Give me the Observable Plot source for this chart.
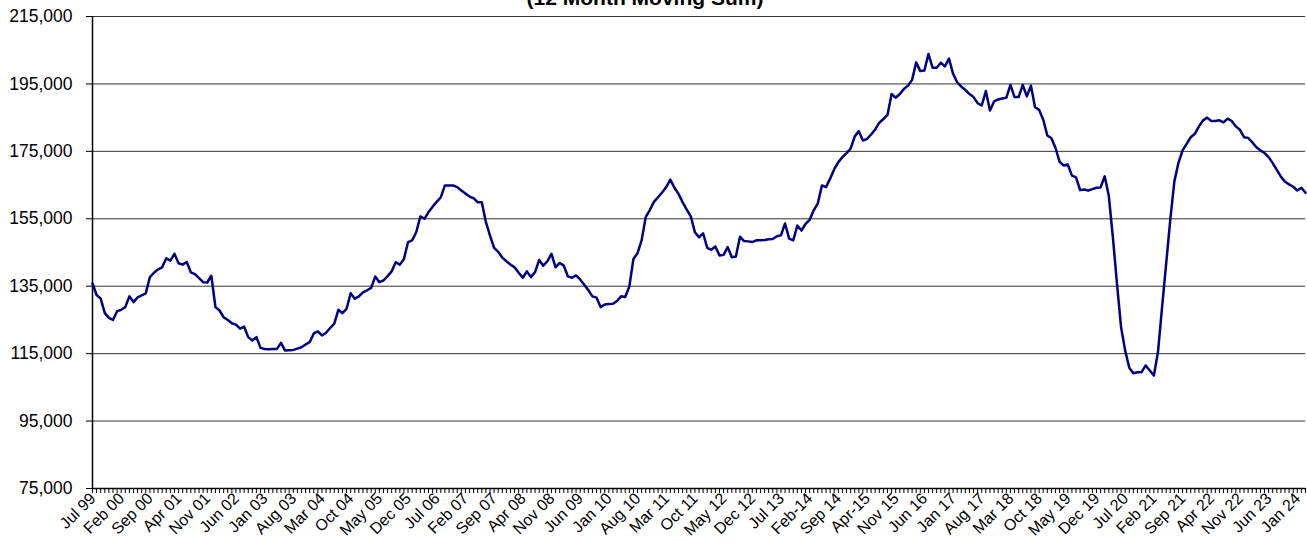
<!DOCTYPE html>
<html><head><meta charset="utf-8">
<script src="https://cdn.jsdelivr.net/npm/d3@7"></script>
<script src="https://cdn.jsdelivr.net/npm/@observablehq/plot@0.6"></script>
<style>
body{margin:0;background:#fff;overflow:hidden}
#wrap{position:relative;width:1307px;height:560px;overflow:hidden;background:#fff}
#title{position:absolute;left:0;width:1290px;text-align:center;top:-12px;font:bold 21px "Liberation Sans",sans-serif;line-height:20px;color:#000;white-space:nowrap;z-index:2}
#chart{position:absolute;left:0;top:0}
</style></head><body>
<div id="wrap"><div id="title">(12 Month Moving Sum)</div><div id="chart"></div></div>
<script>
// Monthly 12-month moving sum, Jul 99 .. Mar 24
const values = [
135800,132400,131300,127000,125600,125000,127600,128000,128800,132000,130300,131700,
132300,132900,137700,139000,140000,140600,143300,142600,144600,141800,141400,142200,
139100,138600,137400,136200,136100,138100,128800,127800,125800,125000,124000,123600,
122400,123000,119900,118900,119900,116700,116400,116300,116400,116400,118200,115900,
116000,116100,116500,116900,117700,118400,121000,121600,120400,121200,122600,123900,
128000,127000,128300,132900,131300,132000,133200,133800,134500,137900,136200,136700,
138000,139400,142100,141400,143100,148100,148600,151000,155700,155000,157000,158600,
160000,161400,164900,164900,164900,164400,163400,162500,161600,161100,159900,159900,
154000,150000,146400,145200,143500,142400,141400,140600,139000,137500,139400,137700,
139200,142800,141100,142400,144600,140600,141900,141100,137900,137500,138200,137000,
135400,133800,132000,131600,128800,129600,129700,129800,130600,132000,131800,134900,
143100,144800,148600,155500,157600,160000,161400,162800,164400,166600,164200,162400,
159900,157700,155700,151000,149500,150700,146400,145800,146800,144100,144300,146600,
143600,143800,149700,148400,148300,148100,148600,148600,148700,148900,149000,149800,
150100,153600,149100,148600,153000,151500,153500,154700,157500,159600,164900,164400,
166900,169700,171800,173300,174500,175800,179400,181000,178200,178700,180000,181500,
183500,184600,185800,192000,190900,192000,193500,194500,196200,201400,198800,199000,
203900,199800,199800,201300,200200,202500,198000,195500,194200,193200,192000,191100,
189300,188600,192900,187100,189800,190400,190700,190900,194700,191100,191100,194700,
191300,194500,188100,187300,184400,179700,178900,176000,171900,170800,171100,167800,
167300,163500,163700,163400,163800,164200,164300,167600,161800,149500,135700,122800,
115900,110800,109200,109500,109500,111500,110000,108500,115400,128800,141700,154700,
166100,171600,175300,177200,179200,180200,182400,184200,185000,184000,184000,184200,
183600,184700,184000,182400,181400,179200,179000,177700,176200,175300,174500,173300,
171500,169500,167500,166000,165200,164500,163400,164200,162700
];
const tickLabels = ["Jul 99","Feb 00","Sep 00","Apr 01","Nov 01","Jun 02","Jan 03","Aug 03","Mar 04","Oct 04","May 05","Dec 05","Jul 06","Feb 07","Sep 07","Apr 08","Nov 08","Jun 09","Jan 10","Aug 10","Mar 11","Oct 11","May 12","Dec 12","Jul 13","Feb-14","Sep 14","Apr-15","Nov 15","Jun 16","Jan 17","Aug 17","Mar 18","Oct 18","May 19","Dec 19","Jul 20","Feb 21","Sep 21","Apr 22","Nov 22","Jun 23","Jan 24"];
const tickStep = 7;
const yTicks = [75000,95000,115000,135000,155000,175000,195000,215000];

const data = values.map((v, i) => ({i, v}));
const monthIdx = values.map((_, i) => i);
const tickIdx = tickLabels.map((_, k) => k * tickStep);

const plot = Plot.plot({
  width: 1307, height: 560,
  marginLeft: 92, marginRight: 2, marginTop: 16, marginBottom: 72,
  style: {fontFamily: "Liberation Sans, sans-serif", background: "transparent", color: "#000", overflow: "visible"},
  x: {domain: [0, values.length - 1], axis: null},
  y: {domain: [75000, 215000], axis: null},
  marks: [
    Plot.ruleY(yTicks.slice(1), {stroke: "#000", strokeWidth: 1, strokeOpacity: 0.8}),
    Plot.ruleY([75000], {stroke: "#000", strokeWidth: 1.5}),
    Plot.axisY({ticks: yTicks, tickSize: 6, tickPadding: 14, tickFormat: d3.format(","), fontSize: 17.5, label: null}),
    Plot.axisX({ticks: monthIdx, tickSize: 5, tickFormat: () => "", strokeWidth: 1, label: null}),
    Plot.ruleX([0], {stroke: "#000", strokeWidth: 1.5}),
    Plot.text(tickIdx, {x: d => d, frameAnchor: "bottom", text: (d, k) => tickLabels[k], rotate: -45, textAnchor: "end", dx: 4, dy: 11, fontSize: 16, fill: "#000"}),
    Plot.line(data, {x: "i", y: "v", stroke: "#000080", strokeWidth: 2.5})
  ]
});
document.getElementById("chart").appendChild(plot);
</script>
</body></html>
